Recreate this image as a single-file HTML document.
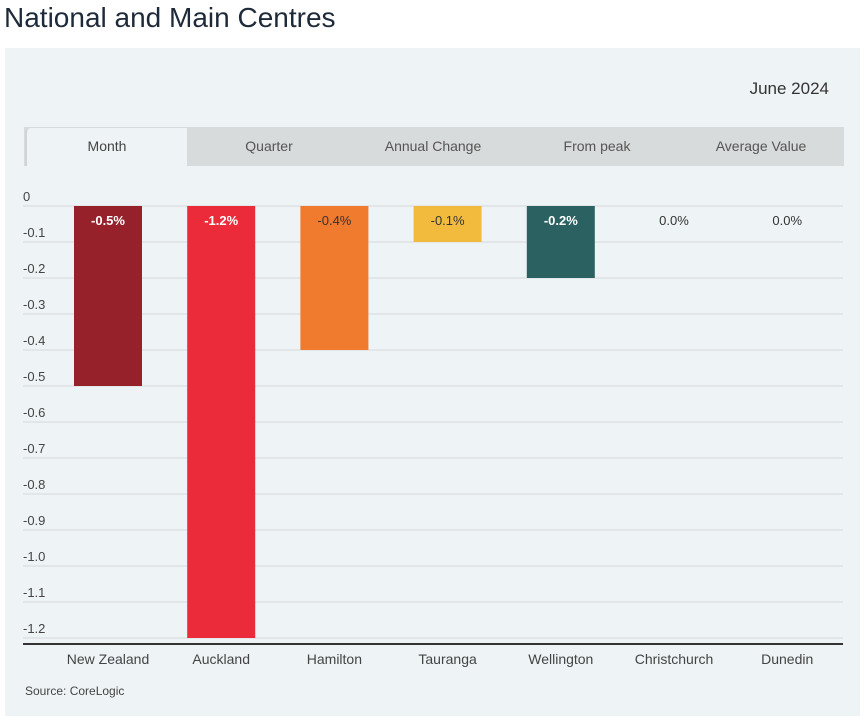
<!DOCTYPE html>
<html><head><meta charset="utf-8"><style>
body{margin:0;width:867px;height:727px;background:#fff;font-family:"Liberation Sans",sans-serif;overflow:hidden;position:relative}
.t{position:absolute}
</style></head><body>
<div class="t" style="left:4px;top:2px;font-size:28px;color:#1e2a3a">National and Main Centres</div>
<div class="t" style="left:5px;top:48px;width:855px;height:668px;background:#eef3f5"></div>
<div class="t" style="left:700px;top:79px;width:129px;text-align:right;font-size:17px;color:#333">June 2024</div>
<div class="t" style="left:24px;top:127px;width:820px;height:39px;background:#d7dbdc"></div>
<div class="t" style="left:25px;top:128px;width:160px;height:38px;background:#eef3f5;border-left:2px solid #d0d4d5;border-top-left-radius:5px;text-align:center;line-height:36px;font-size:14px;color:#444">Month</div>
<div class="t" style="left:187px;top:127px;width:164px;text-align:center;line-height:38px;font-size:14px;color:#555">Quarter</div>
<div class="t" style="left:351px;top:127px;width:164px;text-align:center;line-height:38px;font-size:14px;color:#555">Annual Change</div>
<div class="t" style="left:515px;top:127px;width:164px;text-align:center;line-height:38px;font-size:14px;color:#555">From peak</div>
<div class="t" style="left:679px;top:127px;width:164px;text-align:center;line-height:38px;font-size:14px;color:#555">Average Value</div>
<svg class="t" style="left:0;top:0" width="867" height="727" id="chart"></svg>
<div class="t" style="left:25px;top:684px;font-size:12px;color:#444">Source: CoreLogic</div>
<script>
const categories=["New Zealand","Auckland","Hamilton","Tauranga","Wellington","Christchurch","Dunedin"];
const values=[-0.5,-1.2,-0.4,-0.1,-0.2,0.0,0.0];
const labels=["-0.5%","-1.2%","-0.4%","-0.1%","-0.2%","0.0%","0.0%"];
const colors=["#96212b","#ec2b3a","#f07a2e","#f3bb3e","#2b6160","#999","#999"];
const ticks=[0,-0.1,-0.2,-0.3,-0.4,-0.5,-0.6,-0.7,-0.8,-0.9,-1.0,-1.1,-1.2];
const tickLabels=["0","-0.1","-0.2","-0.3","-0.4","-0.5","-0.6","-0.7","-0.8","-0.9","-1.0","-1.1","-1.2"];
const labelColors=["#fff","#fff","#333","#333","#fff","#333","#333"];
const svg=document.getElementById('chart');const NS="http://www.w3.org/2000/svg";
const y=v=>206+(-v)*360;const x=i=>108+i*113.2;
function mk(t,a,txt){const e=document.createElementNS(NS,t);for(const k in a)e.setAttribute(k,a[k]);if(txt!==undefined)e.textContent=txt;svg.appendChild(e);return e;}
ticks.forEach((t,i)=>{
 const l=mk('line',{x1:23,x2:843,y1:y(t),y2:y(t),stroke:'#d5dadc','stroke-width':1});
 
 
 const tx=mk('text',{x:23,y:y(t)-5,'font-size':13,fill:'#444','font-family':'Liberation Sans'},tickLabels[i]);
 
 
});
categories.forEach((c,i)=>{
 const v=values[i];
 if(v<0){const r=mk('rect',{x:x(i)-34,y:y(0),width:68,height:y(v)-y(0),fill:colors[i]});
 
 }
 const t=mk('text',{x:x(i),y:y(0)+19,'text-anchor':'middle','font-size':13,fill:labelColors[i],'font-weight':v<0&&labelColors[i]=='#fff'?'bold':'normal','font-family':'Liberation Sans'},labels[i]);
 
 
 const cl=mk('text',{x:x(i),y:664,'text-anchor':'middle','font-size':14,fill:'#444','font-family':'Liberation Sans'},c);
 
 
});
const ax=mk('line',{x1:23,x2:843,y1:644,y2:644,stroke:'#333','stroke-width':2});


</script>
</body></html>
